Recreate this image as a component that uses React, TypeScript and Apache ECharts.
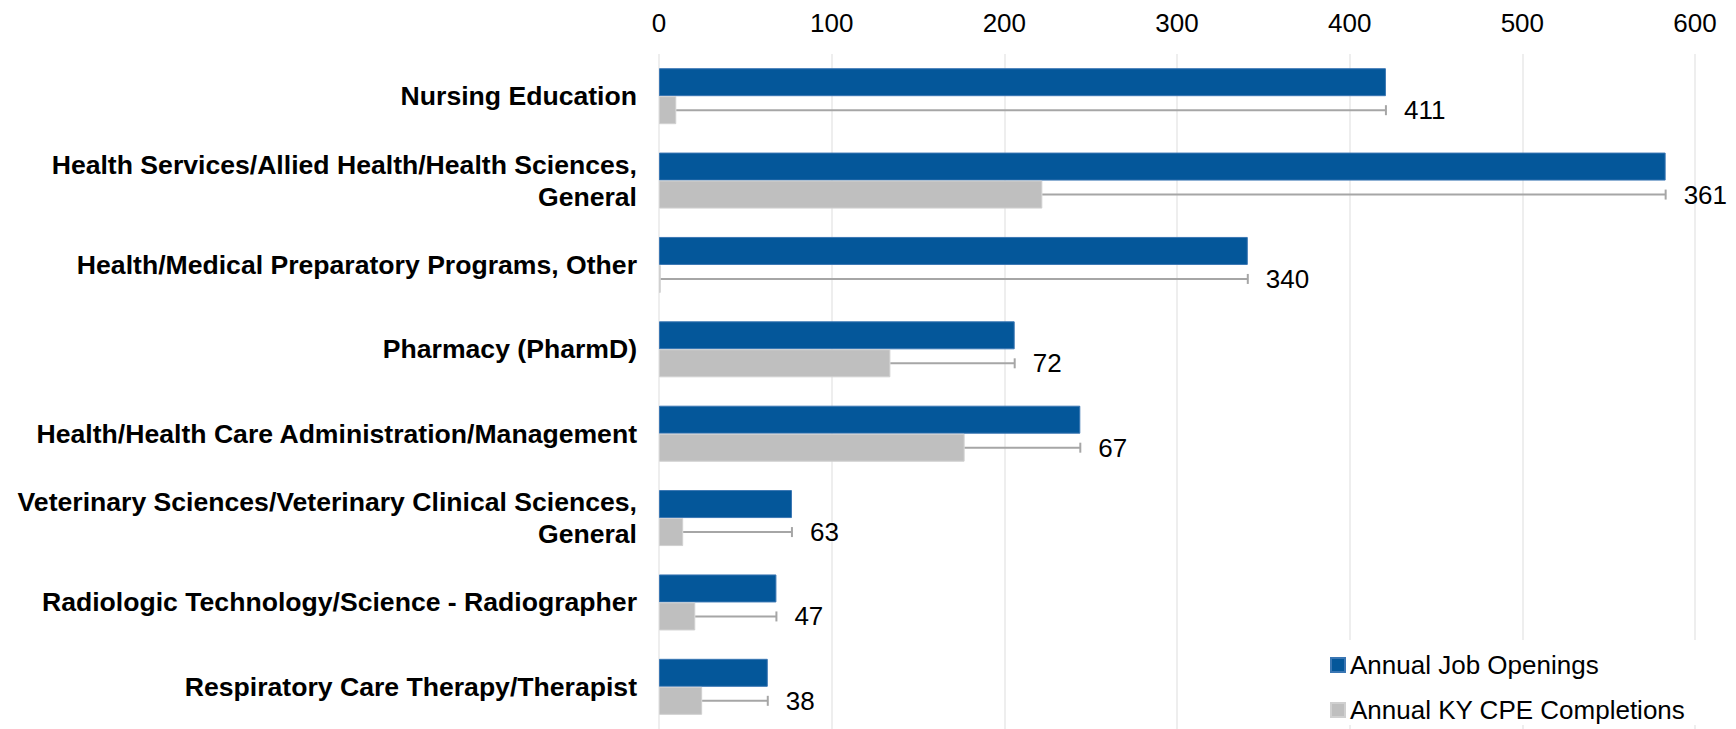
import React, { useEffect, useRef } from "react";
import * as echarts from "echarts";

const categories: string[] = [
  "Nursing Education",
  "Health Services/Allied Health/Health Sciences,\nGeneral",
  "Health/Medical Preparatory Programs, Other",
  "Pharmacy (PharmD)",
  "Health/Health Care Administration/Management",
  "Veterinary Sciences/Veterinary Clinical Sciences,\nGeneral",
  "Radiologic Technology/Science - Radiographer",
  "Respiratory Care Therapy/Therapist",
];
const jobOpenings: number[] = [421, 583, 341, 206, 244, 77, 68, 63];
const completions: number[] = [10, 222, 1, 134, 177, 14, 21, 25];
const gapLabels: number[] = [411, 361, 340, 72, 67, 63, 47, 38];
const xTicks = { min: 0, max: 600, interval: 100 };

const FONT = "'Liberation Sans', Arial, sans-serif";
const BLUE = "#04579A";
const GRAY = "#BFBFBF";
const ERR = "#A6A6A6";
const BAR_W = 28;

export default function App() {
  const ref = useRef<HTMLDivElement>(null);
  useEffect(() => {
    if (!ref.current) return;
    const chart = echarts.init(ref.current, undefined, { renderer: "svg" });
    const errData = categories.map((_, i) => [completions[i], i, jobOpenings[i], gapLabels[i]]);
    chart.setOption({
      animation: false,
      backgroundColor: "#ffffff",
      textStyle: { fontFamily: FONT },
      grid: { left: 659, right: 41, top: 54, height: 680, containLabel: false },
      xAxis: {
        type: "value",
        position: "top",
        min: xTicks.min,
        max: xTicks.max,
        interval: xTicks.interval,
        axisLine: { show: false },
        axisTick: { show: false },
        axisLabel: { fontSize: 26, color: "#000", fontFamily: FONT, margin: 18 },
        splitLine: { show: true, lineStyle: { color: "#EEEEEE", width: 2 } },
      },
      yAxis: {
        type: "category",
        inverse: true,
        data: categories,
        axisLine: { show: false },
        axisTick: { show: false },
        axisLabel: {
          fontSize: 26.6,
          fontWeight: "bold",
          color: "#000",
          fontFamily: FONT,
          margin: 22,
          lineHeight: 32,
          align: "right",
        },
      },
      legend: {
        orient: "vertical",
        left: 1300,
        top: 640,
        height: 89,
        padding: [12, 30, 2, 30],
        backgroundColor: "#ffffff",
        itemWidth: 14,
        itemHeight: 14,
        itemGap: 19,
        icon: "rect",
        selectedMode: false,
        textStyle: { fontSize: 26, color: "#000", fontFamily: FONT, lineHeight: 26 },
        data: ["Annual Job Openings", "Annual KY CPE Completions"],
        z: 10,
      },
      series: [
        {
          name: "Annual Job Openings",
          type: "bar",
          data: jobOpenings,
          barWidth: BAR_W,
          barGap: "0%",
          itemStyle: { color: BLUE, borderColor: "#3A76B3", borderWidth: 1 },
        },
        {
          name: "Annual KY CPE Completions",
          type: "bar",
          data: completions,
          barWidth: BAR_W,
          barGap: "0%",
          itemStyle: { color: GRAY, borderColor: "#D0D0D0", borderWidth: 1 },
        },
        {
          name: "gap",
          type: "custom",
          data: errData,
          encode: { x: [0, 2], y: 1 },
          z: 5,
          renderItem: (params: any, api: any) => {
            const lo = api.value(0);
            const idx = api.value(1);
            const hi = api.value(2);
            const gap = api.value(3);
            const p0 = api.coord([lo, idx]);
            const p1 = api.coord([hi, idx]);
            const y = p0[1] + BAR_W / 2;
            return {
              type: "group",
              children: [
                { type: "line", shape: { x1: p0[0], y1: y, x2: p1[0], y2: y }, style: { stroke: ERR, lineWidth: 2 } },
                { type: "line", shape: { x1: p1[0], y1: y - 5, x2: p1[0], y2: y + 5 }, style: { stroke: ERR, lineWidth: 2 } },
                {
                  type: "text",
                  x: p1[0] + 18,
                  y: y,
                  style: {
                    text: String(gap),
                    fontSize: 26,
                    fill: "#000",
                    fontFamily: FONT,
                    verticalAlign: "middle",
                    align: "left",
                  },
                },
              ],
            };
          },
        },
      ],
    });
    return () => chart.dispose();
  }, []);
  return (
    <div
      ref={ref}
      style={{ position: "fixed", left: 0, top: 0, width: 1736, height: 729, background: "#fff" }}
    />
  );
}
